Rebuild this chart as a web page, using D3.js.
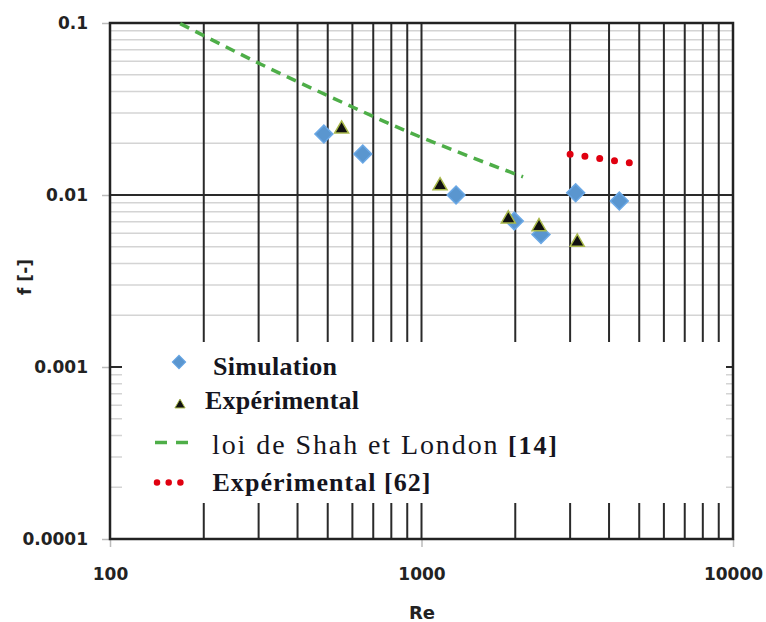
<!DOCTYPE html>
<html>
  <head>
    <meta charset='UTF-8'/>
    <script src="https://cdn.jsdelivr.net/npm/d3@7"></script>
    <style>
      body { margin : 0; background : white; }
      .tick text { font-family : "DejaVu Sans", sans-serif; font-weight : bold; font-size : 17px; fill : #222; }
      .tick line { stroke : #bbb; stroke-width : 1.5; }
      .domain { display : none; }
      .leg { font-family : "Liberation Serif", "Times New Roman", serif; font-size : 28px; fill : #151520; }
      .b { font-weight : bold; font-size : 26px; }
    </style>
  </head>
  <body>
    <svg id='fig' width='766' height='622'></svg>
    <script>
      // data
      const simRe = [486, 648, 1291, 1986, 2419, 3126, 4315]
      const simF  = [0.0226, 0.0173, 0.0100, 0.00705, 0.0059, 0.0103, 0.00922]

      const expRe = [554, 1147, 1900, 2384, 3163]
      const expF  = [0.0242, 0.01132, 0.00726, 0.00655, 0.00532]

      const shahRe = [168, 305, 564, 905, 1463, 2118]
      const shahF  = [0.0992, 0.0576, 0.0342, 0.0233, 0.01644, 0.01275]

      const exp62Re = [3000, 4650]
      const exp62F  = [0.01727, 0.01538]

      const reTicks = [100, 1000, 10000]
      const reLabels = ['100', '1000', '10000']
      const fTicks = [0.1, 0.01, 0.001, 0.0001]
      const fLabels = ['0.1', '0.01', '0.001', '0.0001']

      const svg = d3.select('#fig')
      const x = d3.scaleLog().domain([100, 10000]).range([110, 733])
      const y = d3.scaleLog().domain([0.0001, 0.1]).range([539, 23])

      // grid
      var minorX = [], minorY = []
      for (let d of [100, 1000]) for (let k = 2; k < 10; k++) minorX.push(d*k)
      for (let d of [0.0001, 0.001, 0.01]) for (let k = 2; k < 10; k++) minorY.push(d*k)

      svg.append('g').selectAll('line').data(minorY).join('line')
	  .attr('x1', 110).attr('x2', 733)
	  .attr('y1', d => y(d)).attr('y2', d => y(d))
	  .attr('stroke', '#d4d4d4').attr('stroke-width', 1.5)

      svg.append('g').selectAll('line').data(minorX.concat([1000])).join('line')
	  .attr('x1', d => x(d)).attr('x2', d => x(d))
	  .attr('y1', 23).attr('y2', 539)
	  .attr('stroke', '#2a2a2a').attr('stroke-width', 2)

      svg.append('g').selectAll('line').data([0.01, 0.001]).join('line')
	  .attr('x1', 110).attr('x2', 733)
	  .attr('y1', d => y(d)).attr('y2', d => y(d))
	  .attr('stroke', '#2a2a2a').attr('stroke-width', 2)

      // axes
      svg.append('g').attr('transform', 'translate(110,0)')
	  .call(d3.axisLeft(y).tickValues(fTicks).tickFormat((d, i) => fLabels[i]).tickSize(8).tickPadding(14))
      svg.append('g').attr('transform', 'translate(0,539)')
	  .call(d3.axisBottom(x).tickValues(reTicks).tickFormat((d, i) => reLabels[i]).tickSize(8).tickPadding(21))

      svg.append('rect').attr('x', 110).attr('y', 23).attr('width', 623).attr('height', 516)
	  .attr('fill', 'none').attr('stroke', '#222').attr('stroke-width', 2.5)

      svg.append('text').attr('x', 422).attr('y', 619).attr('text-anchor', 'middle')
	  .style('font', 'bold 18px "DejaVu Sans", sans-serif').attr('fill', '#222').text('Re')
      svg.append('text').attr('transform', 'translate(25,277) rotate(-90)').attr('text-anchor', 'middle')
	  .attr('dominant-baseline', 'central')
	  .style('font', 'bold 17px "DejaVu Sans", sans-serif').attr('fill', '#222').text('f [-]')

      // legend box over the lower grid
      svg.append('rect').attr('x', 122).attr('y', 342).attr('width', 604).attr('height', 161).attr('fill', 'white')

      // series
      const line = d3.line().x(d => x(d[0])).y(d => y(d[1]))
      svg.append('path').datum(d3.zip(shahRe, shahF))
	  .attr('d', line.curve(d3.curveMonotoneX))
	  .attr('fill', 'none').attr('stroke', '#4eae48').attr('stroke-width', 3.5).attr('stroke-dasharray', '10,7')

      svg.append('path').datum(d3.zip(exp62Re, exp62F))
	  .attr('d', d3.line().x(d => x(d[0])).y(d => y(d[1])))
	  .attr('fill', 'none').attr('stroke', '#e00010').attr('stroke-width', 7)
	  .attr('stroke-linecap', 'round').attr('stroke-dasharray', '0,14.95')

      const diamond = d3.symbol(d3.symbolSquare, 160)
      const triangle = d3.symbol(d3.symbolTriangle, 85)

      svg.append('g').selectAll('path').data(d3.zip(simRe, simF)).join('path')
	  .attr('d', diamond)
	  .attr('transform', d => `translate(${x(d[0])},${y(d[1])}) rotate(45)`)
	  .attr('fill', '#5a96cf').attr('stroke', '#6aa8e6').attr('stroke-width', 1.5)

      svg.append('g').selectAll('path').data(d3.zip(expRe, expF)).join('path')
	  .attr('d', triangle)
	  .attr('transform', d => `translate(${x(d[0])},${y(d[1])})`)
	  .attr('fill', '#111').attr('stroke', '#a8b84a').attr('stroke-width', 1.5)

      // legend
      svg.append('path').attr('d', d3.symbol(d3.symbolSquare, 90))
	  .attr('transform', 'translate(179,362) rotate(45)').attr('fill', '#5a96cf').attr('stroke', '#6aa8e6')
      svg.append('path').attr('d', d3.symbol(d3.symbolTriangle, 45))
	  .attr('transform', 'translate(180,405)').attr('fill', '#111').attr('stroke', '#a8b84a')
      svg.append('line').attr('x1', 155).attr('x2', 193).attr('y1', 442.5).attr('y2', 442.5)
	  .attr('stroke', '#4eae48').attr('stroke-width', 3.5).attr('stroke-dasharray', '12,9')
      svg.append('line').attr('x1', 157).attr('x2', 181).attr('y1', 482.5).attr('y2', 482.5)
	  .attr('stroke', '#e00010').attr('stroke-width', 6.5)
	  .attr('stroke-linecap', 'round').attr('stroke-dasharray', '0,11.7')

      const legText = (tx, ty, len, s, ref, bold) => {
	  var t = svg.append('text').attr('class', bold ? 'leg b' : 'leg')
	      .attr('x', tx).attr('y', ty)
	      .attr('textLength', len).attr('lengthAdjust', 'spacing')
	  t.append('tspan').text(s)
	  if (ref) t.append('tspan').attr('class', 'b').text(' ' + ref)
      }
      legText(213, 375, 124, 'Simulation', null, true)
      legText(205, 408.5, 154, 'Expérimental', null, true)
      legText(212, 454, 345, 'loi de Shah et London', '[14]', false)
      legText(212.5, 490.5, 218, 'Expérimental', '[62]', true)
    </script>
  </body>
</html>
